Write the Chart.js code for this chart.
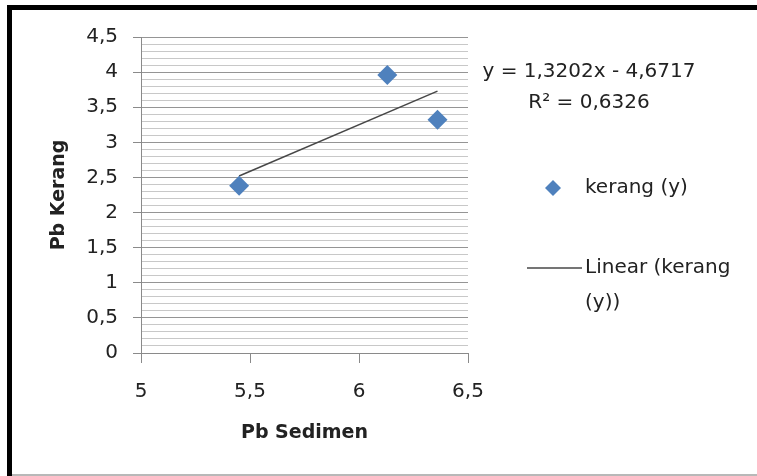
<!DOCTYPE html>
<html>
<head>
<meta charset="utf-8">
<script src="https://cdn.jsdelivr.net/npm/chart.js@4.4.0/dist/chart.umd.min.js"></script>
<style>
  html, body { margin: 0; padding: 0; background: #fff; }
  #wrap { position: relative; width: 757px; height: 476px; overflow: hidden; }
  #wrap canvas { position: absolute; left: 0; top: 0; }
  .edge { position: absolute; }
  #edgeTop { left: 7px; top: 5px; width: 750px; height: 5px; background: #000; }
  #edgeLeft { left: 7px; top: 5px; width: 5px; height: 471px; background: #000; }
  #edgeBottom { left: 12px; top: 474px; width: 745px; height: 2px; background: #b8b8b8; }
</style>
</head>
<body>
<div id="wrap">
  <canvas id="chart" width="757" height="476"></canvas>
  <div class="edge" id="edgeTop"></div>
  <div class="edge" id="edgeLeft"></div>
  <div class="edge" id="edgeBottom"></div>
</div>
<script>
// Pb Sedimen (x) vs Pb Kerang (y)
const sedimenX = [5.45, 6.13, 6.36];
const kerangY = [2.38, 3.96, 3.32];

// trendline end points as shown
const trendX = [5.45, 6.36];
const trendY = [2.52, 3.73];

const xTicks = [5, 5.5, 6, 6.5];
const xTickLabels = ['5', '5,5', '6', '6,5'];
const yMajorTicks = [0, 0.5, 1, 1.5, 2, 2.5, 3, 3.5, 4, 4.5];
const yTickLabels = ['0', '0,5', '1', '1,5', '2', '2,5', '3', '3,5', '4', '4,5'];
const yMinorStep = 0.1;

const equationLines = ['y = 1,3202x - 4,6717', 'R\u00b2 = 0,6326'];
const legendScatter = 'kerang (y)';
const legendTrend = ['Linear (kerang', '(y))'];

const FONT = '"DejaVu Sans", sans-serif';
const BLUE = '#4f81bd';
const TEXT = '#222';

function isMajor(v) {
    return Math.abs(v * 2 - Math.round(v * 2)) < 1e-6;
}

// equation and legend drawn at the right of the plot
const sideText = {
    id: 'sideText',
    afterDraw(chart) {
        const ctx = chart.ctx;
        ctx.save();
        ctx.fillStyle = TEXT;
        ctx.font = '20px ' + FONT;
        ctx.textBaseline = 'middle';

        ctx.textAlign = 'center';
        equationLines.forEach((t, i) => ctx.fillText(t, 589, 72 + i * 31));

        // scatter legend entry
        ctx.fillStyle = BLUE;
        ctx.beginPath();
        ctx.moveTo(553, 180);
        ctx.lineTo(561, 188);
        ctx.lineTo(553, 196);
        ctx.lineTo(545, 188);
        ctx.closePath();
        ctx.fill();
        ctx.fillStyle = TEXT;
        ctx.textAlign = 'left';
        ctx.fillText(legendScatter, 585, 188);

        // trendline legend entry
        ctx.strokeStyle = '#474747';
        ctx.lineWidth = 1.5;
        ctx.beginPath();
        ctx.moveTo(527, 268);
        ctx.lineTo(582, 268);
        ctx.stroke();
        legendTrend.forEach((t, i) => ctx.fillText(t, 585, 268 + i * 35));
        ctx.restore();
    }
};

const ctx = document.getElementById('chart').getContext('2d');
new Chart(ctx, {
    type: 'scatter',
    data: {
        datasets: [
            {
                label: legendScatter,
                data: sedimenX.map((x, i) => ({ x: x, y: kerangY[i] })),
                backgroundColor: BLUE,
                borderColor: BLUE,
                pointStyle: 'rectRot',
                pointRadius: 10,
                borderWidth: 0,
                order: 1
            },
            {
                label: legendTrend.join(' '),
                type: 'line',
                data: trendX.map((x, i) => ({ x: x, y: trendY[i] })),
                borderColor: '#474747',
                borderWidth: 1.5,
                pointRadius: 0,
                fill: false,
                order: 2
            }
        ]
    },
    options: {
        responsive: false,
        animation: false,
        events: [],
        layout: { padding: { left: 0, top: 37, right: 289, bottom: 0 } },
        plugins: {
            legend: { display: false },
            tooltip: { enabled: false }
        },
        scales: {
            x: {
                type: 'linear',
                min: 5,
                max: 6.5,
                afterBuildTicks: (scale) => {
                    scale.ticks = xTicks.map(v => ({ value: v }));
                },
                afterFit: (scale) => { scale.height = 123; },
                ticks: {
                    autoSkip: false,
                    maxRotation: 0,
                    padding: 17,
                    color: TEXT,
                    font: { family: FONT, size: 20 },
                    callback: (v, i) => xTickLabels[i]
                },
                grid: {
                    drawOnChartArea: false,
                    drawTicks: true,
                    tickLength: 10,
                    tickColor: '#8a8a8a'
                },
                border: { display: true, color: '#8a8a8a' },
                title: {
                    display: true,
                    text: 'Pb Sedimen',
                    color: TEXT,
                    font: { family: FONT, size: 19, weight: 'bold' },
                    padding: { top: 0, bottom: 32 }
                }
            },
            y: {
                type: 'linear',
                min: 0,
                max: 4.5,
                afterBuildTicks: (scale) => {
                    const t = [];
                    const n = Math.round(yMajorTicks[yMajorTicks.length - 1] / yMinorStep);
                    for (let k = 0; k <= n; k++) {
                        t.push({ value: Math.round(k * yMinorStep * 10) / 10 });
                    }
                    scale.ticks = t;
                },
                afterFit: (scale) => { scale.width = 141; },
                ticks: {
                    autoSkip: false,
                    padding: 15,
                    color: TEXT,
                    font: { family: FONT, size: 20 },
                    callback: (v) => {
                        const i = yMajorTicks.findIndex(m => Math.abs(m - v) < 1e-6);
                        return i >= 0 ? yTickLabels[i] : '';
                    }
                },
                grid: {
                    color: (c) => (c.tick && isMajor(c.tick.value)) ? '#959595' : '#c8c8c8',
                    tickColor: (c) => (c.tick && isMajor(c.tick.value)) ? '#8a8a8a' : 'rgba(0,0,0,0)',
                    tickLength: 8,
                    lineWidth: 1
                },
                border: { display: true, color: '#8a8a8a' },
                title: {
                    display: true,
                    text: 'Pb Kerang',
                    color: TEXT,
                    font: { family: FONT, size: 19, weight: 'bold' },
                    padding: { top: 48, bottom: 0 }
                }
            }
        }
    },
    plugins: [sideText]
});
</script>
</body>
</html>
